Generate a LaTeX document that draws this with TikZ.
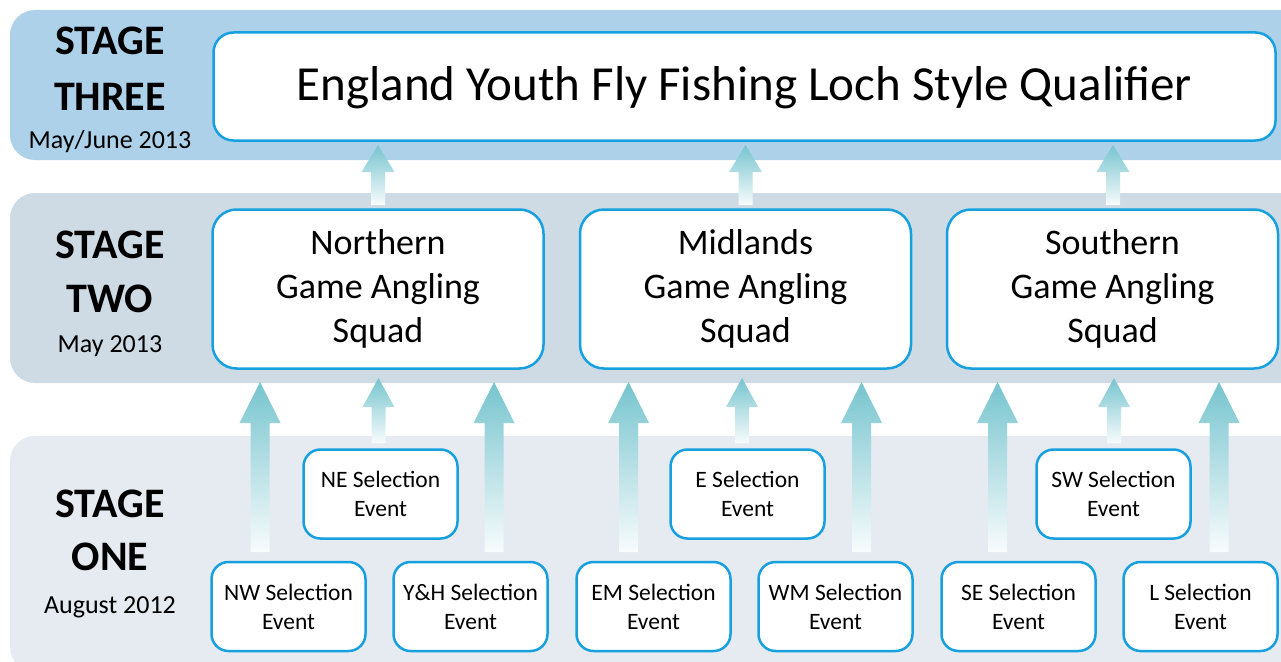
\documentclass[tikz,border=0pt]{standalone}
\usepackage{fontspec}
\setmainfont{Carlito}
\usetikzlibrary{calc}
\definecolor{bandthree}{RGB}{173,209,233}
\definecolor{bandtwo}{RGB}{206,219,229}
\definecolor{bandone}{RGB}{229,235,240}
\definecolor{boxline}{RGB}{22,160,224}
\definecolor{arrowtop}{RGB}{118,196,206}
\definecolor{arrowbot}{RGB}{248,252,253}
% #1 base coordinate, #2 tip coordinate, #3 half shaft, #4 half head, #5 head length
\newcommand\fatarrow[5]{%
  \shade[top color=arrowtop,bottom color=arrowbot] let \p1=(#1), \p2=(#2) in
  ({\x1-#3pt},\y1) -- ({\x1-#3pt},{\y2-#5pt}) -- ({\x1-#4pt},{\y2-#5pt}) -- (\x1,\y2)
  -- ({\x1+#4pt},{\y2-#5pt}) -- ({\x1+#3pt},{\y2-#5pt}) -- ({\x1+#3pt},\y1) -- cycle;}
\tikzset{
  band/.style={rounded corners=25pt},
  titlebox/.style={draw=boxline, line width=2.5pt, fill=white, rounded corners=20pt, inner sep=0pt,
    minimum width=1062pt, minimum height=108pt, font=\fontsize{49}{59}\selectfont},
  squadbox/.style={draw=boxline, line width=2.5pt, fill=white, rounded corners=24pt, inner sep=0pt,
    minimum width=331pt, minimum height=159pt, align=center, font=\fontsize{36}{44}\selectfont},
  eventbox/.style={draw=boxline, line width=2.5pt, fill=white, rounded corners=17pt, inner sep=0pt,
    minimum width=154pt, minimum height=89pt, align=center, font=\fontsize{23.5}{29}\selectfont},
  stagelbl/.style={anchor=base, inner sep=0pt, font=\fontsize{42}{50}\selectfont\bfseries},
  datelbl/.style={anchor=base, inner sep=0pt, font=\fontsize{26}{31}\selectfont},
}
\begin{document}
\begin{tikzpicture}[x=1pt,y=-1pt]
\useasboundingbox (0,0) rectangle (1281,661);
\clip (0,0) rectangle (1281,661);
% bands
\fill[bandthree,band] (10,10) rectangle (1310,160);
\fill[bandtwo,band] (10,193) rectangle (1310,383);
\fill[bandone,band] (10,436) rectangle (1310,672);
% stage labels
\node[stagelbl] (s3a) at (110,55) {STAGE};
\node[stagelbl] (s3b) at (110,110) {THREE};
\node[datelbl] (s3c) at (110,148) {May/June 2013};
\node[stagelbl] (s2a) at (110,258) {STAGE};
\node[stagelbl] (s2b) at (110,312) {TWO};
\node[datelbl] (s2c) at (110,352) {May 2013};
\node[stagelbl] (s1a) at (110,517) {STAGE};
\node[stagelbl] (s1b) at (110,570) {ONE};
\node[datelbl] (s1c) at (110,613) {August 2012};
% arrow end points
\coordinate (aNb) at (378,205);   \coordinate (aNt) at (378,145);
\coordinate (aMb) at (745.5,205); \coordinate (aMt) at (745.5,145);
\coordinate (aSb) at (1113,205);  \coordinate (aSt) at (1113,145);
\coordinate (neb) at (378.5,443); \coordinate (net) at (378.5,378);
\coordinate (eb) at (742,443);    \coordinate (et) at (742,378);
\coordinate (swb) at (1114,443);  \coordinate (swt) at (1114,378);
\coordinate (nwb) at (260,552);   \coordinate (nwt) at (260,382);
\coordinate (yhb) at (494,552);   \coordinate (yht) at (494,382);
\coordinate (emb) at (628.5,552); \coordinate (emt) at (628.5,382);
\coordinate (wmb) at (861.5,552); \coordinate (wmt) at (861.5,382);
\coordinate (seb) at (997.5,552); \coordinate (set) at (997.5,382);
\coordinate (lb) at (1219,552);   \coordinate (lt) at (1219,382);
% arrows
\fatarrow{aNb}{aNt}{7}{16.5}{27}
\fatarrow{aMb}{aMt}{7}{16.5}{27}
\fatarrow{aSb}{aSt}{7}{16.5}{27}
\fatarrow{neb}{net}{7}{16}{29}
\fatarrow{eb}{et}{7}{16}{29}
\fatarrow{swb}{swt}{7}{16}{29}
\fatarrow{nwb}{nwt}{9.5}{20.5}{41}
\fatarrow{yhb}{yht}{9.5}{20.5}{41}
\fatarrow{emb}{emt}{9.5}{20.5}{41}
\fatarrow{wmb}{wmt}{9.5}{20.5}{41}
\fatarrow{seb}{set}{9.5}{20.5}{41}
\fatarrow{lb}{lt}{9.5}{20.5}{41}
% boxes
\node[titlebox] (title) at (744.5,86.5) {};
\node[anchor=base, inner sep=0pt, font=\fontsize{49}{59}\selectfont] (titletext) at (744.5,100) {England Youth Fly Fishing Loch Style Qualifier};
\node[squadbox] (north) at (378,289) {Northern\\Game Angling\\Squad};
\node[squadbox] (mid) at (745.5,289) {Midlands\\Game Angling\\Squad};
\node[squadbox] (south) at (1112.5,289) {Southern\\Game Angling\\Squad};
\node[eventbox] (ne) at (380.5,494) {NE Selection\\Event};
\node[eventbox] (e) at (747.5,494) {E Selection\\Event};
\node[eventbox] (sw) at (1113.5,494) {SW Selection\\Event};
\node[eventbox] (nw) at (288.5,606.5) {NW Selection\\Event};
\node[eventbox] (yh) at (470.5,606.5) {Y\&H Selection\\Event};
\node[eventbox] (em) at (653.5,606.5) {EM Selection\\Event};
\node[eventbox] (wm) at (835.5,606.5) {WM Selection\\Event};
\node[eventbox] (se) at (1018.5,606.5) {SE Selection\\Event};
\node[eventbox] (l) at (1200.5,606.5) {L Selection\\Event};
\end{tikzpicture}
\end{document}
